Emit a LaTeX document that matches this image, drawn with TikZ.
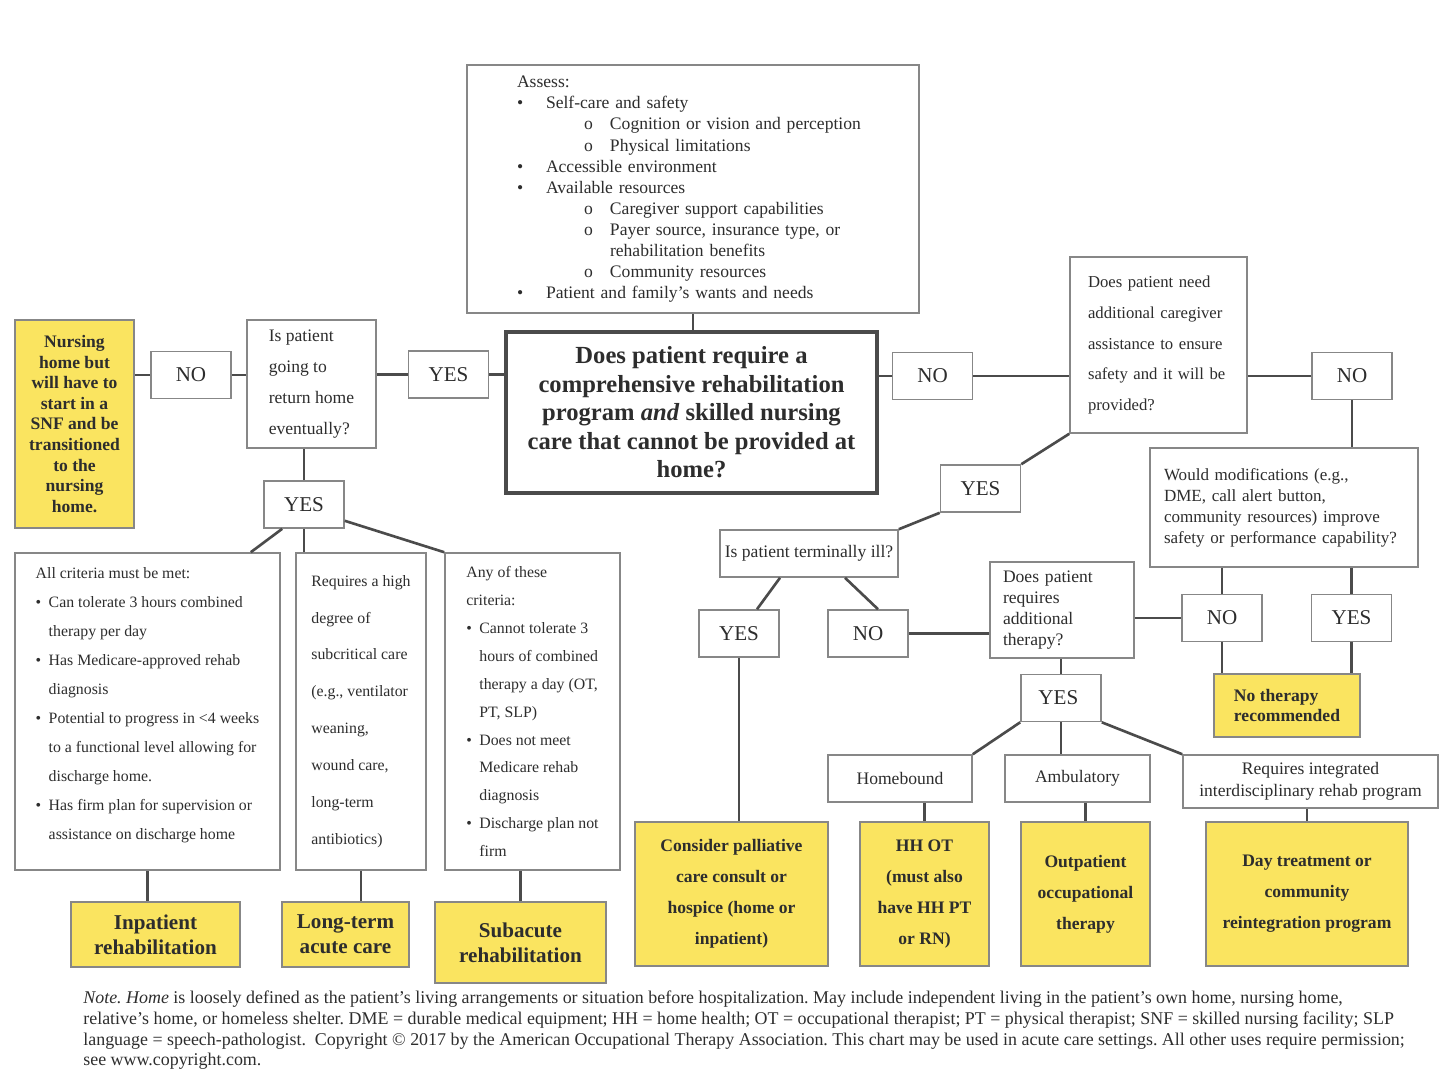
\documentclass[tikz,border=0pt]{standalone}
\usepackage{fontspec}
\setmainfont{Liberation Serif}
\usetikzlibrary{positioning,calc}
\definecolor{jauneF}{RGB}{250,228,96}
\definecolor{cadre}{RGB}{135,135,135}
\definecolor{trait}{RGB}{75,75,75}
\definecolor{encre}{RGB}{45,45,45}
\frenchspacing

\begin{document}
\begin{tikzpicture}[x=0.2mm, y=-0.2mm, text=encre,
    taille/.style 2 args={minimum width=#1*0.2mm, minimum height=#2*0.2mm},
    boite/.style={draw=cadre, line width=0.9pt, fill=white, inner sep=0pt, align=left,
        font=\fontsize{10}{17.6}\selectfont},
    issue/.style={boite, fill=jauneF, align=center, font=\bfseries\fontsize{10}{17.6}\selectfont},
    choix/.style={boite, taille={80}{47}, align=center, font=\fontsize{12}{12}\selectfont},
    lien/.style={draw=trait, line width=1.5pt}]

    \useasboundingbox (0,0) rectangle (1440,1082);

    % Question centrale et évaluation
    \node[boite, taille={452}{248}, text width=70.4mm, font=\fontsize{10}{12}\selectfont] (evaluer) at (693,189) {%
        \setlength{\tabcolsep}{0pt}%
        \begin{tabular}{@{}p{5.8mm}p{7.6mm}p{5.2mm}l@{}}
        \multicolumn{4}{@{}l}{Assess:}\\
        \textbullet & \multicolumn{3}{l}{Self-care and safety}\\
         & & o & Cognition or vision and perception\\
         & & o & Physical limitations\\
        \textbullet & \multicolumn{3}{l}{Accessible environment}\\
        \textbullet & \multicolumn{3}{l}{Available resources}\\
         & & o & Caregiver support capabilities\\
         & & o & Payer source, insurance type, or\\
         & & & rehabilitation benefits\\
         & & o & Community resources\\
        \textbullet & \multicolumn{3}{l}{Patient and family's wants and needs}
        \end{tabular}};
    \node[boite, taille={371}{161}, draw=trait, line width=1.8pt, align=center,
        font=\bfseries\fontsize{14}{16.2}\selectfont] (question) at (691.5,412.5)
        {Does patient require a\\comprehensive rehabilitation\\program \textit{and} skilled nursing\\care that cannot be provided at\\home?};

    % Branche gauche
    \node[boite, taille={129}{128}] (retour) at (311.5,384) {Is patient\\going to\\return home\\eventually?};
    \node[issue, taille={119}{208}, font=\bfseries\fontsize{10}{11.7}\selectfont] (maisonsoins) at (74.5,424)
        {Nursing\\home but\\will have to\\start in a\\SNF and be\\transitioned\\to the\\nursing\\home.};
    \node[boite, taille={265}{317}, font=\fontsize{9}{16.5}\selectfont] (critA) at (147.5,711.5) {%
        \setlength{\tabcolsep}{0pt}%
        \begin{tabular}{@{}p{2.6mm}l@{}}
        \multicolumn{2}{@{}l}{All criteria must be met:}\\
        \textbullet & Can tolerate 3 hours combined\\
         & therapy per day\\
        \textbullet & Has Medicare-approved rehab\\
         & diagnosis\\
        \textbullet & Potential to progress in <4 weeks\\
         & to a functional level allowing for\\
         & discharge home.\\
        \textbullet & Has firm plan for supervision or\\
         & assistance on discharge home\\[3.2mm]
        \end{tabular}};
    \node[boite, taille={130}{317}, font=\fontsize{9}{21}\selectfont] (critB) at (361,711.5)
        {Requires a high\\degree of\\subcritical care\\(e.g., ventilator\\weaning,\\wound care,\\long-term\\antibiotics)};
    \node[boite, taille={175}{317}, font=\fontsize{9}{15.9}\selectfont] (critC) at (532.5,711.5) {%
        \setlength{\tabcolsep}{0pt}%
        \begin{tabular}{@{}p{2.6mm}l@{}}
        \multicolumn{2}{@{}l}{Any of these}\\
        \multicolumn{2}{@{}l}{criteria:}\\
        \textbullet & Cannot tolerate 3\\
         & hours of combined\\
         & therapy a day (OT,\\
         & PT, SLP)\\
        \textbullet & Does not meet\\
         & Medicare rehab\\
         & diagnosis\\
        \textbullet & Discharge plan not\\
         & firm
        \end{tabular}};
    \node[issue, taille={169}{65}, font=\bfseries\fontsize{12}{14.2}\selectfont] (inpat) at (155.5,934.5) {Inpatient\\rehabilitation};
    \node[issue, taille={127}{65}, font=\bfseries\fontsize{12}{14.2}\selectfont] (ltac) at (345.5,934.5) {Long-term\\acute care};
    \node[issue, taille={171}{81}, font=\bfseries\fontsize{12}{14.2}\selectfont] (subaigu) at (520.5,942.5) {Subacute\\rehabilitation};

    % Branche droite
    \node[boite, taille={177}{176}, text width=28.2mm, font=\fontsize{9.5}{17.6}\selectfont] (aide) at (1158.5,345)
        {Does patient need\\additional caregiver\\assistance to ensure\\safety and it will be\\provided?};
    \node[boite, taille={268}{119}, text width=48mm, font=\fontsize{9.7}{11.9}\selectfont] (modif) at (1284,507.5)
        {Would modifications (e.g.,\\DME, call alert button,\\community resources) improve\\safety or performance capability?};
    \node[boite, taille={178}{47}] (terminal) at (809,553.5) {Is patient terminally ill?};
    \node[boite, taille={144}{96}, text width=23.6mm, font=\fontsize{10}{11.8}\selectfont] (therapie) at (1062,610)
        {Does patient\\requires\\additional\\therapy?};
    \node[boite, taille={144}{47}, align=center] (domicile) at (900,778.5) {Homebound};
    \node[boite, taille={145}{47}, align=center] (ambul) at (1077.5,778.5) {Ambulatory};
    \node[boite, taille={255}{53}, align=center, font=\fontsize{10}{12.5}\selectfont] (integre) at (1310.5,781.5)
        {Requires integrated\\interdisciplinary rehab program};
    \node[issue, taille={146}{63}, align=left, font=\bfseries\fontsize{10}{11.9}\selectfont] (aucune) at (1287,705.5) {No therapy\\recommended};
    \node[issue, taille={193}{144}] (pallia) at (731.5,894) {Consider palliative\\care consult or\\hospice (home or\\inpatient)};
    \node[issue, taille={129}{144}] (hhot) at (924.5,894) {HH OT\\(must also\\have HH PT\\or RN)};
    \node[issue, taille={129}{144}] (ambuot) at (1085.5,894) {Outpatient\\occupational\\therapy};
    \node[issue, taille={202}{144}] (jour) at (1307,894) {Day treatment or\\community\\reintegration program};

    % Réponses OUI / NON
    \foreach \nom/\x/\y/\rep in {
        ouiA/448.5/374.5/YES, nonA/191/375/NO, ouiB/304/504.5/YES,
        nonB/932.5/376/NO, nonC/1352/376/NO, ouiC/980.5/488.5/YES,
        ouiD/739/633.5/YES, nonD/868/633.5/NO, nonE/1222/618/NO,
        ouiE/1351.5/618/YES, ouiF/1061/698/YES
    } {
        \node[choix] (\nom) at (\x,\y) {\rep};
    }

    % Liaisons gauche
    \draw[lien] (evaluer.south) -- (evaluer.south |- question.north);
    \draw[lien] (question.west |- ouiA) -- (ouiA);
    \draw[lien] (ouiA) -- (ouiA -| retour.east);
    \draw[lien] (nonA) -- (nonA -| retour.west);
    \draw[lien] (nonA) -- (nonA -| maisonsoins.east);
    \draw[lien] (ouiB) -- (ouiB |- retour.south);
    \draw[lien] ($(ouiB.south west)+(19,0)$) -- ($(critA.north east)+(-30,0)$);
    \draw[lien] (ouiB.south) -- (ouiB.south |- critB.north);
    \draw[lien] ($(ouiB.south east)+(0,-8)$) -- (critC.north west);
    \draw[lien] (critA.south) -- (critA.south |- inpat.north);
    \draw[lien] (critB.south) -- (critB.south |- ltac.north);
    \draw[lien] (subaigu.north) -- (subaigu.north |- critC.south);

    % Liaisons droite
    \draw[lien] (nonB -| question.east) -- (nonB);
    \draw[lien] (nonB) -- (nonB -| aide.west);
    \draw[lien] (nonC -| aide.east) -- (nonC);
    \draw[lien] (nonC) -- (nonC |- modif.north);
    \draw[lien] (aide.south west) -- (ouiC.north east);
    \draw[lien] (ouiC.south west) -- (terminal.north east);
    \draw[lien] ($(terminal.south)+(-29,0)$) -- ($(ouiD.north)+(18,0)$);
    \draw[lien] ($(terminal.south)+(36,0)$) -- ($(nonD.north)+(10,0)$);
    \draw[lien] (ouiD) -- (ouiD |- pallia.north);
    \draw[lien] (nonD) -- (nonD -| therapie.west);
    \draw[lien] (nonE -| therapie.east) -- (nonE);
    \draw[lien] (nonE |- modif.south) -- (nonE);
    \draw[lien] (ouiE |- modif.south) -- (ouiE);
    \draw[lien] (nonE) -- (nonE |- aucune.north);
    \draw[lien] (ouiE) -- (ouiE |- aucune.north);
    \draw[lien] (ouiF |- therapie.south) -- (ouiF);
    \draw[lien] (ouiF.south west) -- (domicile.north east);
    \draw[lien] (ouiF) -- (ouiF |- ambul.north);
    \draw[lien] (ouiF.south east) -- (integre.north west);
    \draw[lien] (domicile.south -| hhot.north) -- (hhot);
    \draw[lien] (ambul.south -| ambuot.north) -- (ambuot);
    \draw[lien] (integre.south -| jour.north) -- (jour);

    % Note
    \node[anchor=north west, align=left, inner sep=0pt, font=\fontsize{10.2}{11.7}\selectfont] (note) at (83,991)
        {\textit{Note. Home} is loosely defined as the patient's living arrangements or situation before hospitalization. May include independent living in the patient's own home, nursing home,\\
        relative's home, or homeless shelter. DME = durable medical equipment; HH = home health; OT = occupational therapist; PT = physical therapist; SNF = skilled nursing facility; SLP\\
        language = speech-pathologist.\ \ Copyright \textcopyright{} 2017 by the American Occupational Therapy Association. This chart may be used in acute care settings. All other uses require permission;\\
        see www.copyright.com.};
\end{tikzpicture}
\end{document}
